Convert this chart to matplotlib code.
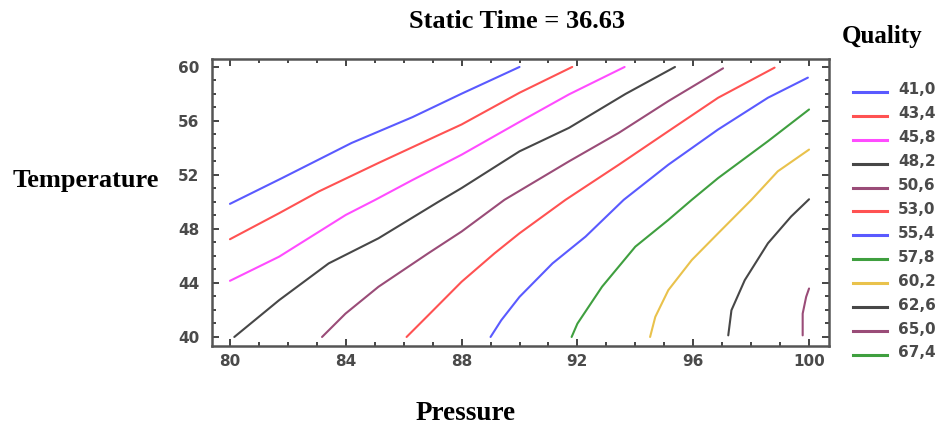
import matplotlib
matplotlib.use("Agg")
import matplotlib.pyplot as plt
from matplotlib.lines import Line2D

# contour levels of Quality and their traced (pressure, temperature) paths
levels = ["41,0", "43,4", "45,8", "48,2", "50,6", "53,0",
          "55,4", "57,8", "60,2", "62,6", "65,0", "67,4"]
colors = ["#5a5aff", "#ff5252", "#ff4cff", "#474747", "#9a4c78", "#ff5252",
          "#5a5aff", "#3f9f3f", "#e9c24c", "#474747", "#9a4c78", "#3f9f3f"]

p_410 = [80, 81.8, 84.2, 86.3, 88, 90]
t_410 = [49.86, 51.77, 54.37, 56.28, 58.02, 60]
p_434 = [80, 81.7, 83.07, 85.13, 87.19, 88.0, 90, 91.82]
t_434 = [47.24, 49.17, 50.78, 52.89, 54.94, 55.74, 58.09, 60]
p_458 = [80, 81.7, 84.0, 85.02, 86.28, 88, 90, 91.71, 93.63]
t_458 = [44.16, 45.95, 49.04, 50.16, 51.6, 53.5, 55.93, 57.97, 60]
p_482 = [80.15, 81.7, 83.41, 85.13, 87.19, 88, 90, 91.71, 93.66, 95.37]
t_482 = [40, 42.73, 45.45, 47.31, 50.0, 51.03, 53.75, 55.49, 58.0, 60]
p_506 = [83.18, 83.99, 85.13, 86.85, 88, 89.48, 91.71, 93.43, 95.14, 97.03]
t_506 = [40, 41.73, 43.72, 46.2, 47.81, 50.16, 53.01, 55.12, 57.47, 59.9]
p_530 = [86.1, 86.85, 88, 89.14, 90, 91.59, 93.43, 95.14, 96.86, 98.81]
t_530 = [40, 41.61, 44.09, 46.2, 47.68, 50.16, 52.76, 55.24, 57.72, 59.95]
p_554 = [89.0, 89.37, 90, 91.14, 92.28, 93.6, 95.14, 96.86, 98.58, 99.96]
t_554 = [40, 41.24, 42.97, 45.45, 47.43, 50.16, 52.76, 55.37, 57.72, 59.21]
p_578 = [91.8, 92.0, 92.85, 94.0, 95.14, 95.95, 96.86, 98.58, 100.0]
t_578 = [40, 40.99, 43.72, 46.69, 48.67, 50.16, 51.77, 54.5, 56.85]
p_602 = [94.51, 94.69, 95.14, 95.95, 96.86, 98.01, 98.92, 100.0]
t_602 = [40, 41.49, 43.47, 45.7, 47.68, 50.16, 52.27, 53.88]
p_626 = [97.21, 97.32, 97.78, 98.58, 99.38, 100.0]
t_626 = [40.12, 41.98, 44.21, 46.94, 48.92, 50.2]
p_650 = [99.78, 99.78, 99.9, 100.0]
t_650 = [40.12, 41.73, 42.97, 43.59]
p_674 = []
t_674 = []

pressures = [p_410, p_434, p_458, p_482, p_506, p_530,
             p_554, p_578, p_602, p_626, p_650, p_674]
temperatures = [t_410, t_434, t_458, t_482, t_506, t_530,
                t_554, t_578, t_602, t_626, t_650, t_674]

x_ticks = [80, 84, 88, 92, 96, 100]
y_ticks = [40, 44, 48, 52, 56, 60]

serif = "Liberation Serif"
tick_grey = "#4a4a4a"

fig = plt.figure(figsize=(9.41, 4.30), dpi=100)
ax = fig.add_axes([0.2253, 0.1953, 0.6557, 0.6675])

for p, t, c in zip(pressures, temperatures, colors):
    if p:
        ax.plot(p, t, color=c, lw=1.5, solid_capstyle="round",
                solid_joinstyle="round")

ax.set_xlim(79.38, 100.69)
ax.set_ylim(39.33, 60.59)
ax.set_xticks(x_ticks)
ax.set_yticks(y_ticks)
ax.set_xticks(range(80, 101), minor=True)
ax.set_yticks(range(40, 61), minor=True)
ax.tick_params(which="both", direction="in", top=True, right=True,
               color="#444444", width=1.4)
ax.tick_params(which="major", length=5)
ax.tick_params(which="minor", length=3)
ax.tick_params(axis="x", which="major", pad=6)
ax.tick_params(axis="y", which="major", pad=9)
for lab in ax.get_xticklabels() + ax.get_yticklabels():
    lab.set_fontfamily("DejaVu Sans")
    lab.set_fontweight("bold")
    lab.set_fontsize(11)
    lab.set_color(tick_grey)
for sp in ax.spines.values():
    sp.set_color("#555555")
    sp.set_linewidth(1.8)

fig.text(517 / 941, 1 - 22 / 430, "Static Time = 36.63", family=serif,
         weight="bold", fontsize=19, ha="center", va="center")
fig.text(86 / 941, 1 - 181 / 430, "Temperature", family=serif,
         weight="bold", fontsize=19, ha="center", va="center")
fig.text(466 / 941, 1 - 413 / 430, "Pressure", family=serif,
         weight="bold", fontsize=19.5, ha="center", va="center")
fig.text(882 / 941, 1 - 37 / 430, "Quality", family=serif,
         weight="bold", fontsize=18, ha="center", va="center")

# key of contour levels down the right side
for i, (lev, c) in enumerate(zip(levels, colors)):
    y = 1 - (92 + i * 23.9) / 430
    fig.add_artist(Line2D([853 / 941, 887 / 941], [y, y], color=c, lw=2.2,
                          transform=fig.transFigure))
    fig.text(898 / 941, y + 2 / 430, lev, family="DejaVu Sans", weight="bold",
             fontsize=11, color=tick_grey, ha="left", va="center")

fig.savefig("out.png", dpi=100)
